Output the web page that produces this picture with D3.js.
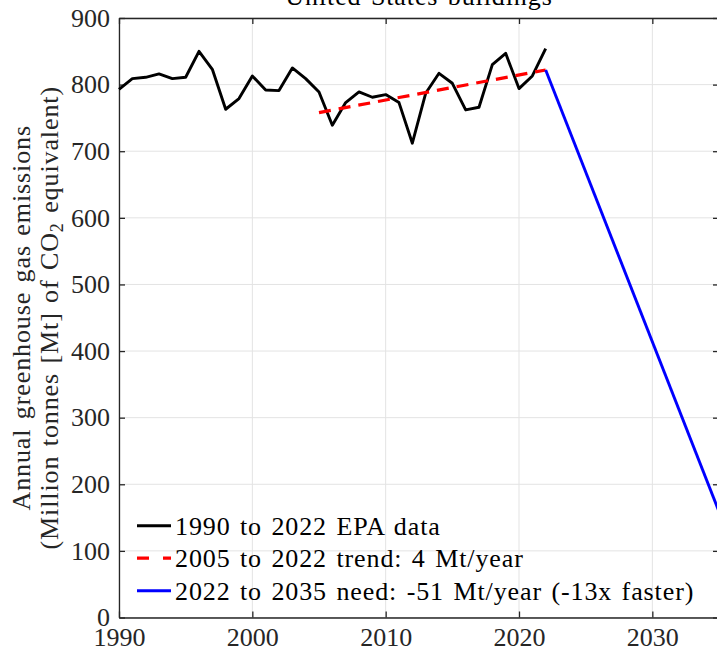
<!DOCTYPE html>
<html>
<head>
<meta charset="utf-8">
<script src="https://cdn.jsdelivr.net/npm/d3@7"></script>
<style>
  body { margin: 0; background: #fff; }
  svg { display: block; font-family: "Liberation Serif", "DejaVu Serif", serif; }
  .wide { letter-spacing: 0.9px; word-spacing: 2px; }
</style>
</head>
<body>
<div id="chart"></div>
<script>
// US buildings GHG emissions, EPA data + trend + need line

// === data ===
const years = d3.range(1990, 2023);
const epaValues = [793, 809, 811, 816, 809, 811, 850, 823, 763, 779,
                   813, 792, 791, 825, 809, 789, 739, 773, 789, 781,
                   785, 773, 712, 787, 817, 802, 762, 766, 830, 847,
                   794, 813, 854];
const trendYears = [2005, 2022];
const trendValues = [758, 822];
const needYears = [2022, 2035];
const needValues = [822, 159];
const xTicks = [1990, 2000, 2010, 2020, 2030];
const yTicks = [0, 100, 200, 300, 400, 500, 600, 700, 800, 900];
const legendLabels = [
  "1990 to 2022 EPA data",
  "2005 to 2022 trend: 4 Mt/year",
  "2022 to 2035 need: -51 Mt/year (-13x faster)"
];

// === sizing ===
const outerW = 717, outerH = 652;
const plotL = 119, plotR = 719, plotT = 18, plotB = 617.5;
const fontFam = "'Liberation Serif', 'DejaVu Serif', serif";

const svg = d3.select("#chart").append("svg")
  .attr("width", outerW).attr("height", outerH);

const x = d3.scaleLinear().domain([1990, 2035]).range([plotL, plotR]);
const y = d3.scaleLinear().domain([0, 900]).range([plotB, plotT]);

const axisColor = "#262626";
const fs = 26;
const lw = 2.9;

// grid
const grid = svg.append("g");
grid.selectAll("line.gx").data(xTicks).join("line")
  .attr("x1", d => x(d)).attr("x2", d => x(d))
  .attr("y1", plotT).attr("y2", plotB)
  .attr("stroke", "#e3e3e3").attr("stroke-width", 1);
grid.selectAll("line.gy").data(yTicks).join("line")
  .attr("x1", plotL).attr("x2", plotR)
  .attr("y1", d => y(d)).attr("y2", d => y(d))
  .attr("stroke", "#e3e3e3").attr("stroke-width", 1);

// axes (MATLAB-like: ticks inward, box on)
const tickLen = 6;
const xAxisB = d3.axisBottom(x).tickValues(xTicks).tickSizeInner(-tickLen).tickSizeOuter(0).tickPadding(10).tickFormat(d3.format("d"));
const xAxisT = d3.axisTop(x).tickValues(xTicks).tickSizeInner(-tickLen).tickSizeOuter(0).tickFormat("");
const yAxisL = d3.axisLeft(y).tickValues(yTicks).tickSizeInner(-tickLen).tickSizeOuter(0).tickPadding(9);
const yAxisR = d3.axisRight(y).tickValues(yTicks).tickSizeInner(-tickLen).tickSizeOuter(0).tickFormat("");

function styleAxis(sel) {
  sel.attr("font-family", fontFam).attr("font-size", fs);
  sel.selectAll("path, line").attr("stroke", axisColor).attr("stroke-width", 1.3);
  sel.selectAll("text").attr("fill", axisColor);
}

svg.append("g").attr("transform", `translate(0,${plotB})`).call(xAxisB).call(styleAxis);
svg.append("g").attr("transform", `translate(0,${plotT})`).call(xAxisT).call(styleAxis);
svg.append("g").attr("transform", `translate(${plotL},0)`).call(yAxisL).call(styleAxis);
svg.append("g").attr("transform", `translate(${plotR},0)`).call(yAxisR).call(styleAxis);

// lines
const line = d3.line().x(d => x(d[0])).y(d => y(d[1]));

svg.append("path")
  .datum(years.map((yr, i) => [yr, epaValues[i]]))
  .attr("fill", "none").attr("stroke", "#000").attr("stroke-width", lw)
  .attr("stroke-linejoin", "round")
  .attr("d", line);

svg.append("path")
  .datum(trendYears.map((yr, i) => [yr, trendValues[i]]))
  .attr("fill", "none").attr("stroke", "#ff0000").attr("stroke-width", 3.2)
  .attr("stroke-dasharray", "12,8")
  .attr("d", line);

svg.append("path")
  .datum(needYears.map((yr, i) => [yr, needValues[i]]))
  .attr("fill", "none").attr("stroke", "#0000ff").attr("stroke-width", lw)
  .attr("d", line);

// title (cut off at top)
svg.append("text")
  .attr("class", "wide")
  .attr("x", (plotL + plotR) / 2).attr("y", 5)
  .attr("text-anchor", "middle")
  .style("font-size", fs + "px").attr("fill", "#000")
  .text("United States buildings");

// y label
const yl = svg.append("text")
  .attr("class", "wide")
  .attr("transform", `translate(30,${(plotT + plotB) / 2}) rotate(-90)`)
  .attr("text-anchor", "middle")
  .style("font-size", fs + "px").attr("fill", axisColor);
yl.append("tspan").attr("x", 0).attr("dy", 0).text("Annual greenhouse gas emissions");
const l2 = yl.append("tspan").attr("x", 0).attr("dy", 28);
l2.append("tspan").text("(Million tonnes [Mt] of CO");
l2.append("tspan").attr("dy", 5).style("font-size", "18px").text("2");
l2.append("tspan").attr("dy", -5).text(" equivalent)");

// legend
const legendColors = ["#000", "#ff0000", "#0000ff"];
const legendDash = [null, "12,14", null];
const items = svg.append("g").selectAll("g").data(legendLabels).join("g")
  .attr("transform", (d, i) => `translate(137,${525.7 + i * 32.5})`);
items.append("line")
  .attr("x1", 0).attr("x2", 34).attr("y1", 0).attr("y2", 0)
  .attr("stroke", (d, i) => legendColors[i])
  .attr("stroke-width", (d, i) => i === 1 ? 3.2 : lw)
  .attr("stroke-dasharray", (d, i) => legendDash[i]);
items.append("text")
  .attr("class", "wide")
  .attr("x", 38).attr("y", 0).attr("dy", "0.34em")
  .style("font-size", fs + "px").attr("fill", "#000")
  .text(d => d);
</script>
</body>
</html>
